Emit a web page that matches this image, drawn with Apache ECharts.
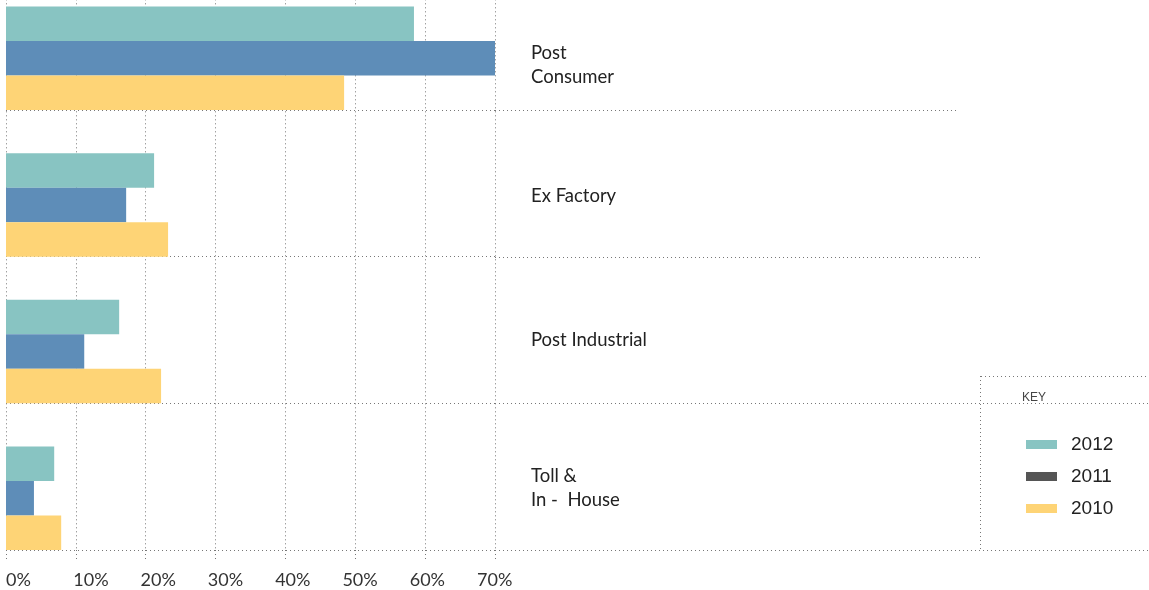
<!DOCTYPE html>
<html>
<head>
<meta charset="utf-8">
<script src="https://cdn.jsdelivr.net/npm/echarts@6/dist/echarts.min.js"></script>
<style>
  html, body { margin: 0; padding: 0; background: #fff; }
  #chart { width: 1149px; height: 590px; }
</style>
</head>
<body>
<div id="chart"></div>
<script>
// Waste source categories, top to bottom
const categories = ['Post\nConsumer', 'Ex Factory', 'Post Industrial', 'Toll &\nIn -  House'];
// Share of material by source (%)
const values2012 = [58.4, 21.2, 16.2, 6.9];
const values2011 = [70.0, 17.2, 11.2, 4.0];
const values2010 = [48.4, 23.2, 22.2, 7.9];
const tickValues = [0, 10, 20, 30, 40, 50, 60, 70];

const colors = { '2012': '#88C4C2', '2011': '#5E8DB8', '2010': '#FED476' };
const dotted = { color: '#777777', width: 1, type: [1, 3] };

// per-category vertical nudge of the category name (px below band centre)
const labelShift = [28, 13, 10, 11];

const chart = echarts.init(document.getElementById('chart'), null, { renderer: 'canvas' });

const bandH = 146.67;
const barH = 34.5;

const option = {
  animation: false,
  backgroundColor: '#ffffff',
  grid: [
    { left: 6, right: 654, bottom: 40, top: 550 - 4 * bandH, outerBoundsMode: 'none', containLabel: false },
    { left: 6, width: 471, top: 550, height: 1, outerBoundsMode: 'none' }
  ],
  xAxis: [
    {
      type: 'value', gridIndex: 0, min: 0, max: 70, interval: 10,
      axisLabel: { show: false },
      axisLine: { show: false },
      axisTick: { show: true, length: 9, lineStyle: dotted },
      splitLine: { show: true, lineStyle: dotted }
    },
    {
      type: 'value', gridIndex: 1, min: 0, max: 70, interval: 10,
      axisLine: { show: false }, axisTick: { show: false }, splitLine: { show: false },
      axisLabel: {
        formatter: v => tickValues.includes(v) ? v + '%' : '',
        align: 'left', margin: 20,
        fontFamily: 'Lato', fontSize: 18, color: '#333'
      }
    }
  ],
  yAxis: [
    {
      type: 'category', gridIndex: 0, inverse: true, position: 'right',
      data: categories,
      axisLine: { show: false }, axisTick: { show: false },
      splitLine: { show: true, lineStyle: dotted },
      axisLabel: { show: false }
    },
    { type: 'value', gridIndex: 1, show: false }
  ],
  legend: {
    orient: 'vertical', left: 1021, top: 430,
    icon: 'rect', itemWidth: 31, itemHeight: 9, itemGap: 13,
    selectedMode: false,
    textStyle: { fontFamily: 'Liberation Sans', fontSize: 19, color: '#222', padding: [0, 0, 0, 9] },
    data: [
      { name: '2012' },
      { name: '2011', itemStyle: { color: '#555555' } },
      { name: '2010' }
    ]
  },
  series: [
    // empty slot that keeps the three bars at the bottom of each band
    {
      type: 'bar', name: 'spacer', silent: true, barWidth: bandH - 3 * barH, barGap: '0%',
      data: categories.map(() => 0), itemStyle: { color: 'rgba(0,0,0,0)' }
    },
    { type: 'bar', name: '2012', barWidth: barH, barGap: '0%', data: values2012, itemStyle: { color: colors['2012'] } },
    { type: 'bar', name: '2011', barWidth: barH, barGap: '0%', data: values2011, itemStyle: { color: colors['2011'] } },
    { type: 'bar', name: '2010', barWidth: barH, barGap: '0%', data: values2010, itemStyle: { color: colors['2010'] } }
  ]
};

chart.setOption(option);

// Category names, separator extensions and the key box
const lineStyle = { stroke: '#777777', lineWidth: 1, lineDash: [1, 3] };
const yOf = i => chart.convertToPixel({ yAxisIndex: 0 }, i);
const xEnd = chart.convertToPixel({ xAxisIndex: 0 }, 70);
const half = (yOf(1) - yOf(0)) / 2;
const sepY = categories.map((c, i) => Math.round(yOf(i) + half) + 0.5);
const sepEnd = [957, 982, 1149, 1149];

const graphics = sepY.map((y, i) => ({
  type: 'line', silent: true,
  shape: { x1: xEnd, y1: y, x2: sepEnd[i], y2: y },
  style: lineStyle
}));
categories.forEach((c, i) => {
  graphics.push({
    type: 'text', silent: true, x: xEnd + 36, y: yOf(i) + labelShift[i],
    style: {
      text: c, fontFamily: 'Lato', fontSize: 18.5, lineHeight: 24, fill: '#222',
      align: 'left', verticalAlign: 'middle'
    }
  });
});
graphics.push(
  { type: 'line', silent: true, shape: { x1: 981, y1: 376.5, x2: 1149, y2: 376.5 }, style: lineStyle },
  { type: 'line', silent: true, shape: { x1: 980.5, y1: 376, x2: 980.5, y2: sepY[3] }, style: lineStyle },
  {
    type: 'text', silent: true, left: 1022, top: 392,
    style: { text: 'KEY', fontFamily: 'Liberation Sans', fontSize: 12, fill: '#444' }
  }
);
chart.setOption({ graphic: graphics });
</script>
</body>
</html>
